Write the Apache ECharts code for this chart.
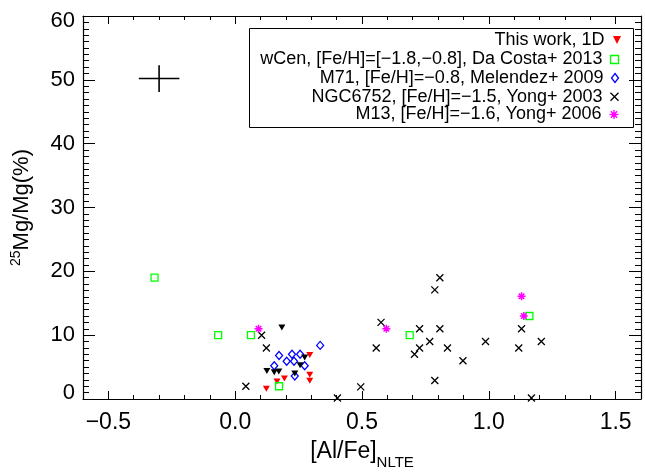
<!DOCTYPE html>
<html>
<head>
<meta charset="utf-8">
<script src="https://cdn.jsdelivr.net/npm/echarts@6/dist/echarts.min.js"></script>
<style>
html,body{margin:0;padding:0;background:#fff;}
#main{width:645px;height:475px;}
</style>
</head>
<body>
<div id="main"></div>
<script>
// ---- data (x = [Al/Fe]_NLTE, y = 25Mg/Mg %) ----
const thisWork1D = [[0.294,6.9],[0.194,3.2],[0.294,3.8],[0.294,2.85],[0.165,2.75],[0.123,1.6]];
const thisWorkOther = [[0.184,11.2],[0.274,6.5],[0.256,5.3],[0.125,4.4],[0.154,4.2],[0.172,4.3],[0.235,4.0]];
const wCen = [[-0.318,19.0],[-0.067,10.0],[0.062,10.0],[0.173,2.0],[0.688,10.0],[1.16,13.0]];
const m71 = [[0.335,8.4],[0.173,6.8],[0.224,7.0],[0.256,7.0],[0.203,5.9],[0.232,5.9],[0.154,5.2],[0.274,5.2],[0.235,3.6]];
const ngc6752 = [[0.104,10.0],[0.123,8.0],[0.042,2.0],[0.403,0.15],[0.807,19.0],[0.787,17.1],[0.575,12.0],
  [0.727,11.0],[0.807,11.0],[1.129,11.0],[0.767,9.0],[0.987,9.0],[1.207,9.0],[0.556,8.0],[0.727,8.0],
  [0.837,8.0],[1.118,8.0],[0.707,7.0],[0.898,6.0],[0.787,2.9],[0.495,1.9],[1.168,0.15]];
const m13 = [[0.092,11.0],[1.129,16.1],[1.138,13.0],[0.596,11.0]];
const errorCross = [[-0.30,50.2,0.08,2.1]]; // x, y, xerr, yerr

const xTicks = [-0.5,0.0,0.5,1.0,1.5];
const yTicks = [0,10,20,30,40,50,60];
const seriesNames = [
  'This work, 1D',
  'wCen, [Fe/H]=[\u22121.8,\u22120.8], Da Costa+ 2013',
  'M71, [Fe/H]=\u22120.8, Melendez+ 2009',
  'NGC6752, [Fe/H]=\u22121.5, Yong+ 2003',
  'M13, [Fe/H]=\u22121.6, Yong+ 2006'
];

const FONT = 'Liberation Sans, Arial, Helvetica, sans-serif';
const triPath = 'path://M0,0L10,0L5,10Z';
const xPath = 'path://M0,0L10,10M10,0L0,10';
const starPath = 'path://M5,0L5,10M0,5L10,5M1.5,1.5L8.5,8.5M8.5,1.5L1.5,8.5';

const chart = echarts.init(document.getElementById('main'), null, {renderer:'canvas'});

const fmtX = v => (Math.abs(v) < 1e-9 ? '0.0' : v.toFixed(1)).replace('-', '\u2212');
const fmtY = v => v === yTicks[0] ? '{lo|' + v + '}' : (v === yTicks[yTicks.length-1] ? '{hi|' + v + '}' : '{t|' + v + '}');

const majorX = (pos, showLabel) => ({
  type:'value', position:pos, min:-0.6, max:1.6, gridIndex:0,
  axisLine:{show:true, onZero:false, lineStyle:{color:'#000', width:1.2}},
  axisTick:{show:true, inside:true, length:8, customValues:xTicks, lineStyle:{color:'#000', width:1}},
  axisLabel:{show:showLabel, customValues:xTicks, formatter:fmtX, fontSize:23, fontFamily:FONT, color:'#000', margin:12},
  splitLine:{show:false},
  name: showLabel ? '{m|[Al/Fe]}{s|NLTE}' : '',
  nameLocation:'middle', nameGap:40,
  nameTextStyle:{fontFamily:FONT, color:'#000', rich:{
    m:{fontSize:23, fontFamily:FONT, color:'#000', lineHeight:26},
    s:{fontSize:15, fontFamily:FONT, color:'#000', lineHeight:14, verticalAlign:'bottom', padding:[0,0,-5,0]}
  }}
});
const minorX = (pos) => ({
  type:'value', position:pos, min:-0.6, max:1.6, interval:0.1, gridIndex:0,
  axisLine:{show:false, onZero:false},
  axisTick:{show:true, inside:true, length:4, lineStyle:{color:'#000', width:1}},
  axisLabel:{show:false}, splitLine:{show:false}
});
const yAx = (pos, showLabel) => ({
  type:'value', position:pos, min:0, max:60, interval:10, gridIndex:0,
  axisLine:{show:true, onZero:false, lineStyle:{color:'#000', width:1.2}},
  axisTick:{show:true, inside:true, length:12, lineStyle:{color:'#000', width:1}},
  minorTick:{show:true, splitNumber:10, length:6, lineStyle:{color:'#000', width:1}},
  axisLabel:{show:showLabel, fontSize:22, fontFamily:FONT, color:'#000', margin:8,
    formatter: fmtY,
    rich:{
      t:{fontSize:22, fontFamily:FONT, color:'#000', lineHeight:22},
      lo:{fontSize:22, fontFamily:FONT, color:'#000', lineHeight:22, padding:[0,0,13,0]},
      hi:{fontSize:22, fontFamily:FONT, color:'#000', lineHeight:22, padding:[10,0,0,0]}
    },
    customValues: yTicks},
  splitLine:{show:false}, minorSplitLine:{show:false},
  name: showLabel ? '{p|25}{m|Mg/Mg(%)}' : '',
  nameLocation:'middle', nameGap:48,
  nameTextStyle:{fontFamily:FONT, color:'#000', rich:{
    m:{fontSize:22, fontFamily:FONT, color:'#000', lineHeight:26},
    p:{fontSize:14, fontFamily:FONT, color:'#000', lineHeight:14, verticalAlign:'top', padding:[0,0,0,0]}
  }}
});

const legendRows = [40, 59.5, 78, 96.7, 114.5];
const legendStyles = [
  {icon:triPath, itemStyle:{color:'#ff0000', borderWidth:0}},
  {icon:'rect', itemStyle:{color:'none', borderColor:'#00ff00', borderWidth:1.3}},
  {icon:'diamond', itemStyle:{color:'none', borderColor:'#0000ff', borderWidth:1.3}},
  {icon:xPath, itemStyle:{color:'none', borderColor:'#000000', borderWidth:1.3}},
  {icon:starPath, itemStyle:{color:'none', borderColor:'#ff00ff', borderWidth:1.4}}
];
const legendSizes = [[9,8],[8,8],[7,9],[8,8],[9,9]];
const legends = seriesNames.map((n,i) => ({
  data:[{name:n, icon:legendStyles[i].icon, itemStyle:legendStyles[i].itemStyle}],
  orient:'vertical', right:24, top:legendRows[i]-9, padding:0,
  align:'right', itemGap:0,
  itemWidth:legendSizes[i][0], itemHeight:legendSizes[i][1],
  selectedMode:false,
  itemStyle:legendStyles[i].itemStyle,
  textStyle:{fontSize:18, fontFamily:FONT, color:'#000', lineHeight:18, padding:[0,3,0,0]}
}));

const option = {
  backgroundColor:'#fff',
  animation:false,
  grid:{left:83, right:4, top:10, bottom:69, containLabel:false},
  xAxis:[majorX('bottom', true), minorX('bottom'), majorX('top', false), minorX('top')],
  yAxis:[yAx('left', true), yAx('right', false)],
  legend: legends,
  graphic:[{
    type:'rect', shape:{x:249.5, y:28.5, width:384, height:99},
    style:{fill:'#fff', stroke:'#000', lineWidth:1}, z:0
  }],
  series:[
    {type:'custom', name:'error', xAxisIndex:0, yAxisIndex:0, data:errorCross, z:5,
      renderItem:(params, api) => {
        const x = api.value(0), y = api.value(1), dx = api.value(2), dy = api.value(3);
        const l = api.coord([x-dx, y]), r = api.coord([x+dx, y]);
        const t = api.coord([x, y+dy]), b = api.coord([x, y-dy]);
        const st = {stroke:'#000', lineWidth:1.6};
        return {type:'group', children:[
          {type:'line', shape:{x1:l[0], y1:l[1], x2:r[0], y2:r[1]}, style:st},
          {type:'line', shape:{x1:t[0], y1:t[1], x2:b[0], y2:b[1]}, style:st}
        ]};
      }},
    {type:'scatter', name:seriesNames[0], data:thisWork1D, symbol:triPath, symbolSize:[7,6],
      itemStyle:{color:'#ff0000', opacity:1}, z:3},
    {type:'scatter', name:seriesNames[1], data:wCen, symbol:'rect', symbolSize:7,
      itemStyle:{color:'none', borderColor:'#00ff00', borderWidth:1.3, opacity:1}, z:3},
    {type:'scatter', name:seriesNames[2], data:m71, symbol:'diamond', symbolSize:[7,8],
      itemStyle:{color:'none', borderColor:'#0000ff', borderWidth:1.3, opacity:1}, z:3},
    {type:'scatter', name:'other', data:thisWorkOther, symbol:triPath, symbolSize:[7,6],
      itemStyle:{color:'#000000', opacity:1}, z:3},
    {type:'scatter', name:seriesNames[3], data:ngc6752, symbol:xPath, symbolSize:7,
      itemStyle:{color:'none', borderColor:'#000000', borderWidth:1.3, opacity:1}, z:3},
    {type:'scatter', name:seriesNames[4], data:m13, symbol:starPath, symbolSize:8,
      itemStyle:{color:'none', borderColor:'#ff00ff', borderWidth:1.5, opacity:1}, z:3}
  ]
};
chart.setOption(option);
</script>
</body>
</html>
